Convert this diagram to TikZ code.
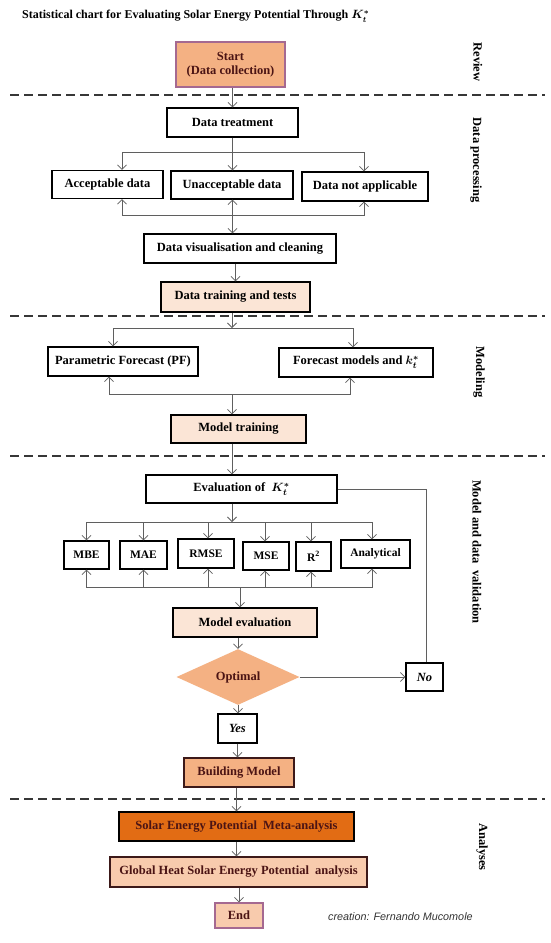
\documentclass[tikz,border=0pt]{standalone}
\usepackage{fontspec}
\setmainfont{Liberation Serif}
\newfontfamily\handfont{Liberation Sans}
\usetikzlibrary{arrows.meta,shapes.geometric}
\definecolor{orangeA}{RGB}{244,177,131}
\definecolor{peach}{RGB}{251,229,214}
\definecolor{peachB}{RGB}{248,203,173}
\definecolor{darkorange}{RGB}{226,108,20}
\definecolor{txtred}{RGB}{75,20,20}
\definecolor{arrgray}{RGB}{95,95,95}
\definecolor{dashgray}{RGB}{55,55,55}
\definecolor{pinkborder}{RGB}{165,105,145}
\definecolor{brownborder}{RGB}{60,25,25}
\tikzset{
  box/.style={draw=black, line width=1.1pt, fill=white, inner sep=0pt, align=center,
    font=\bfseries\fontsize{12.5}{14.5}\selectfont},
  smallbox/.style={box, font=\bfseries\fontsize{11.5}{13}\selectfont},
  peachbox/.style={box, fill=peach},
  orangebox/.style={box, fill=orangeA, text=txtred},
  line/.style={draw=arrgray, line width=0.8pt},
  arr/.style={line, -{Straight Barb[length=4.5pt,width=9pt]}},
  biarr/.style={line, {Straight Barb[length=4.5pt,width=9pt]}-{Straight Barb[length=4.5pt,width=9pt]}},
  dashline/.style={draw=dashgray, line width=1.8pt, dash pattern=on 9pt off 5pt},
  side/.style={rotate=-90, font=\bfseries\fontsize{12.5}{14.5}\selectfont, inner sep=0pt},
}
\begin{document}
\begin{tikzpicture}[x=1pt,y=-1pt]
\useasboundingbox (0,0) rectangle (550,943);
\fill[white] (0,0) rectangle (550,943);

% title
\node[anchor=west, inner sep=0pt, font=\bfseries\fontsize{12}{14}\selectfont] (title) at (22,16)
  {Statistical chart for Evaluating Solar Energy Potential Through {\boldmath$K_t^{*}$}};

% separators
\draw[dashline] (10,95) -- (545,95);
\draw[dashline] (10,316) -- (545,316);
\draw[dashline] (10,456) -- (545,456);
\draw[dashline] (10,799) -- (545,799);

% side labels
\node[side] (lrev) at (478,62) {Review};
\node[side] (lproc) at (476,160) {Data processing};
\node[side] (lmod) at (479,372) {Modeling};
\node[side] (lval) at (477,552) {Model and data\ \ validation};
\node[side] (lana) at (482,847) {Analyses};

% nodes
\node[orangebox, draw=pinkborder, minimum width=109, minimum height=45] (start) at (230.5,64.5) {Start\\(Data collection)};
\node[box, minimum width=131, minimum height=29] (dt) at (232.5,122.5) {Data treatment};
\node[box, minimum width=111, minimum height=28] (acc) at (107.5,184.5) {Acceptable data};
\node[box, minimum width=122, minimum height=28] (unacc) at (232,185) {Unacceptable data};
\node[box, minimum width=126, minimum height=29] (nap) at (365,186.5) {Data not applicable};
\node[box, minimum width=192, minimum height=29] (dvc) at (240,248.5) {Data visualisation and cleaning};
\node[peachbox, minimum width=149, minimum height=30] (dtt) at (235.5,297) {Data training and tests};
\node[box, minimum width=150, minimum height=29] (pf) at (123,361.5) {Parametric Forecast (PF)};
\node[box, minimum width=154, minimum height=29] (fm) at (356,362.5) {Forecast models and {\boldmath$k_t^{*}$}};
\node[peachbox, minimum width=135, minimum height=28] (mt) at (238.5,429) {Model training};
\node[box, minimum width=191, minimum height=28] (ev) at (241.5,489) {Evaluation of\ \ {\boldmath$K_t^{*}$}};
\node[smallbox, minimum width=45, minimum height=28] (mbe) at (86.5,555) {MBE};
\node[smallbox, minimum width=47, minimum height=28] (mae) at (143.5,555) {MAE};
\node[smallbox, minimum width=56, minimum height=29] (rmse) at (206,553.5) {RMSE};
\node[smallbox, minimum width=46, minimum height=28] (mse) at (266,556) {MSE};
\node[smallbox, minimum width=35, minimum height=29] (r2) at (313.5,556.5) {R\textsuperscript{2}};
\node[smallbox, minimum width=69, minimum height=28] (anal) at (375.5,554) {Analytical};
\node[peachbox, minimum width=144, minimum height=29] (me) at (245,622.5) {Model evaluation};
\node[diamond, fill=orangeA, text=txtred, inner sep=0pt, minimum width=123, minimum height=47,
  font=\bfseries\fontsize{12.5}{14.5}\selectfont] (opt) at (238,677) {Optimal};
\node[box, minimum width=37, minimum height=28, font=\bfseries\itshape\fontsize{12.5}{14.5}\selectfont] (no) at (424.5,677) {No};
\node[box, minimum width=39, minimum height=29, font=\bfseries\itshape\fontsize{12.5}{14.5}\selectfont] (yes) at (237.5,728.5) {Yes};
\node[orangebox, draw=brownborder, minimum width=110, minimum height=29] (bm) at (239,772.5) {Building Model};
\node[box, fill=darkorange, text=txtred, minimum width=235, minimum height=29] (meta) at (236.5,826.5) {Solar Energy Potential\ \ Meta-analysis};
\node[box, fill=peachB, text=txtred, draw=brownborder, minimum width=257, minimum height=30] (glob) at (238.5,872) {Global Heat Solar Energy Potential\ \ analysis};
\node[box, fill=peachB, text=txtred, draw=pinkborder, minimum width=48, minimum height=25] (end) at (239,915.5) {End};
\node[anchor=west, inner sep=0pt, font=\handfont\itshape\fontsize{10.8}{12}\selectfont, text=black!80] (credit) at (328,917) {creation: Fernando Mucomole};

% junction coordinates
\coordinate (j1) at (232.5,152);
\coordinate (j2) at (232.5,215);
\coordinate (j3) at (232,328);
\coordinate (j4) at (232,394);
\coordinate (j5) at (232,522);
\coordinate (j6) at (240,587);

% connectors
\draw[arr] (start.south -| dt.north) -- (dt.north);
\draw[line] (dt.south) -- (j1);
\draw[arr] (j1) -| ([xshift=14.5pt]acc.north);
\draw[arr] (j1) -- (j1 |- unacc.north);
\draw[arr] (j1) -| ([xshift=-1pt]nap.north);
\draw[arr] (j2) -| ([xshift=14.5pt]acc.south);
\draw[arr] (j2) -| ([xshift=-1pt]nap.south);
\draw[biarr] (j2 |- unacc.south) -- (j2 |- dvc.north);
\draw[arr] (dvc.south -| dtt.north) -- (dtt.north);
\draw[arr] (dtt.south -| j3) -- (j3);
\draw[arr] (j3) -| ([xshift=-10pt]pf.north);
\draw[arr] (j3) -| ([xshift=-3pt]fm.north);
\draw[arr] (j4) -| ([xshift=-14pt]pf.south);
\draw[arr] (j4) -| ([xshift=-6pt]fm.south);
\draw[arr] (j4) -- (j4 |- mt.north);
\draw[arr] (mt.south -| j4) -- (j4 |- ev.north);
\draw[arr] (ev.south -| j5) -- (j5);
\draw[arr] (j5) -| (mbe.north);
\draw[arr] (j5) -| (mae.north);
\draw[arr] (j5) -| ([xshift=2pt]rmse.north);
\draw[arr] (j5) -| ([xshift=-1pt]mse.north);
\draw[arr] (j5) -| ([xshift=-2.5pt]r2.north);
\draw[arr] (j5) -| ([xshift=-3.5pt]anal.north);
\draw[arr] (j6) -| (mbe.south);
\draw[arr] (j6) -| (mae.south);
\draw[arr] (j6) -| ([xshift=2pt]rmse.south);
\draw[arr] (j6) -| ([xshift=-1pt]mse.south);
\draw[arr] (j6) -| ([xshift=-2.5pt]r2.south);
\draw[arr] (j6) -| ([xshift=-3.5pt]anal.south);
\draw[arr] (j6) -- (j6 |- me.north);
\draw[arr] (me.south -| opt.north) -- (opt.north);
\draw[arr] (opt.east) -- (no.west);
\draw[line] (ev.east) -| ([xshift=1.5pt]no.north);
\draw[arr] (opt.south) -- (opt.south |- yes.north);
\draw[arr] (yes.south) -- (yes.south |- bm.north);
\draw[arr] (bm.south -| meta.north) -- (meta.north);
\draw[arr] (meta.south) -- (meta.south |- glob.north);
\draw[arr] (glob.south -| end.north) -- (end.north);
\end{tikzpicture}
\end{document}
